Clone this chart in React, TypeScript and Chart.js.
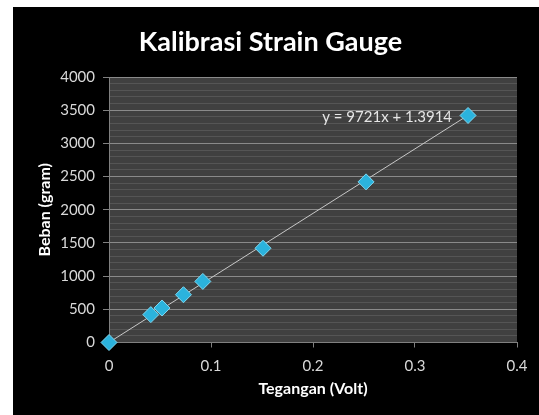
import React, { useEffect, useRef } from "react";
import { Chart, registerables } from "chart.js";

Chart.register(...registerables);

const voltage = [0, 0.041, 0.052, 0.073, 0.092, 0.151, 0.252, 0.352];
const load = [0, 420, 520, 720, 920, 1420, 2420, 3420];
const slope = 9721;
const intercept = 1.3914;
const trendX = [0, 0.352];
const equationLabel = "y = 9721x + 1.3914";
const titleText = "Kalibrasi Strain Gauge";
const xTitle = "Tegangan (Volt)";
const yTitle = "Beban (gram)";

const FONT = "Lato, 'Open Sans', sans-serif";

export default function App() {
  const ref = useRef<HTMLCanvasElement | null>(null);

  useEffect(() => {
    if (!ref.current) return;
    const bgPlugin = {
      id: "bg",
      beforeDraw(chart: any) {
        const { ctx, chartArea } = chart;
        ctx.save();
        ctx.fillStyle = "#000000";
        ctx.fillRect(0, 0, chart.width, chart.height);
        ctx.fillStyle = "#404040";
        ctx.fillRect(chartArea.left, chartArea.top, chartArea.right - chartArea.left, chartArea.bottom - chartArea.top);
        ctx.restore();
      },
    };
    const textPlugin = {
      id: "texts",
      afterDatasetsDraw(chart: any) {
        const { ctx, scales } = chart;
        const lastX = voltage[voltage.length - 1];
        const lastY = load[load.length - 1];
        const px = scales.x.getPixelForValue(lastX) - 16;
        const py = scales.y.getPixelForValue(lastY) + 2;
        ctx.save();
        ctx.font = `15px ${FONT}`;
        ctx.fillStyle = "#e6e6e6";
        ctx.textAlign = "right";
        ctx.textBaseline = "middle";
        ctx.fillText(equationLabel, px, py);
        ctx.font = `bold 27px ${FONT}`;
        ctx.fillStyle = "#ffffff";
        ctx.textAlign = "center";
        ctx.fillText(titleText, 257.5, 35);
        ctx.restore();
      },
    };
    const chart = new Chart(ref.current, {
      type: "scatter",
      data: {
        datasets: [
          {
            type: "line",
            label: "trend",
            data: trendX.map((x) => ({ x, y: slope * x + intercept })),
            borderColor: "#c8c8c8",
            borderWidth: 1,
            pointRadius: 0,
            showLine: true,
            fill: false,
            order: 2,
          },
          {
            label: "data",
            data: voltage.map((x, i) => ({ x, y: load[i] })),
            pointStyle: "rectRot",
            pointRadius: 8,
            backgroundColor: "#2bb3dd",
            borderColor: "#7fd8f2",
            borderWidth: 1,
            clip: false,
            order: 1,
          },
        ],
      },
      options: {
        animation: false,
        responsive: false,
        maintainAspectRatio: false,
        layout: { padding: { left: 0, right: 22, top: 70, bottom: 0 } },
        plugins: {
          legend: { display: false },
          tooltip: { enabled: false },
          title: { display: false },
        },
        scales: {
          x: {
            type: "linear",
            min: 0,
            max: 0.4,
            ticks: {
              stepSize: 0.1,
              color: "#d9d9d9",
              font: { family: FONT, size: 15 },
              padding: 10,
              callback: (v: any) => String(Math.round(Number(v) * 10) / 10),
            },
            grid: {
              drawOnChartArea: false,
              color: "#808080",
              tickColor: "#808080",
              tickLength: 5,
            },
            border: { color: "#808080" },
            title: {
              display: true,
              text: xTitle,
              color: "#ffffff",
              font: { family: FONT, size: 16, weight: "bold" },
              padding: { top: 0, bottom: 17 },
            },
            afterFit: (s: any) => {
              s.height = 72.5;
            },
          },
          y: {
            type: "linear",
            min: 0,
            max: 4000,
            ticks: {
              stepSize: 100,
              autoSkip: false,
              color: "#d9d9d9",
              font: { family: FONT, size: 15 },
              padding: 8,
              callback: (v: any) => (Number(v) % 500 === 0 ? String(v) : ""),
            },
            grid: {
              color: (c: any) => (c.tick && c.tick.value % 500 === 0 ? "#8a8a8a" : "#555555"),
              tickColor: (c: any) => (c.tick && c.tick.value % 500 === 0 ? "#808080" : "rgba(0,0,0,0)"),
              tickLength: 6,
              lineWidth: 1,
            },
            border: { color: "#808080" },
            title: {
              display: true,
              text: yTitle,
              color: "#ffffff",
              font: { family: FONT, size: 16, weight: "bold" },
              padding: { top: 22, bottom: 0 },
            },
            afterFit: (s: any) => {
              s.width = 96;
            },
          },
        },
      },
      plugins: [bgPlugin, textPlugin],
    });
    return () => chart.destroy();
  }, []);

  return (
    <div style={{ position: "absolute", left: 0, top: 0, width: 539, height: 415, background: "#ffffff" }}>
      <canvas
        ref={ref}
        width={526}
        height={408}
        style={{ position: "absolute", left: 13, top: 7, width: 526, height: 408, display: "block" }}
      />
    </div>
  );
}
